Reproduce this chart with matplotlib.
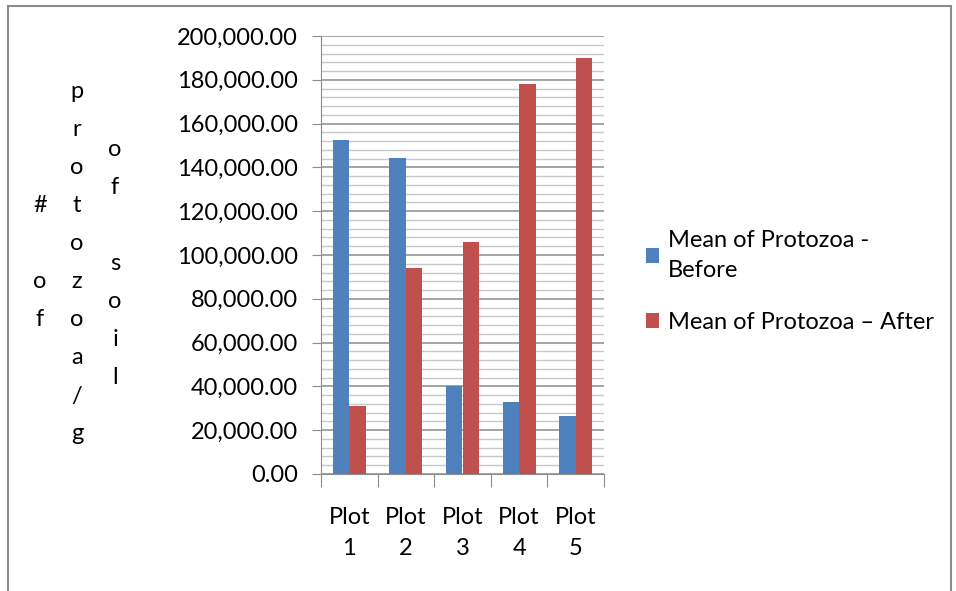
import matplotlib.pyplot as plt
from matplotlib.lines import Line2D
from matplotlib.ticker import FuncFormatter, MultipleLocator
import numpy as np

# data
plots = ['Plot\n1', 'Plot\n2', 'Plot\n3', 'Plot\n4', 'Plot\n5']
before = [152500, 144500, 40000, 33000, 26300]
after = [31000, 94000, 106000, 178000, 190000]
series_names = ['Mean of Protozoa -\nBefore', 'Mean of Protozoa \u2013 After']
ylabel_cols = ['# of', 'protozoa/g', 'of soil']

plt.rcParams['font.family'] = ['Lato', 'DejaVu Sans']
fs = 17

fig = plt.figure(figsize=(9.56, 5.91), dpi=100)
ax = fig.add_axes([321/956, 117/591, 283/956, 438/591])

x = np.arange(len(plots))
w = 0.29
ax.bar(x - w/2, before, w, color='#4F81BD', label=series_names[0], zorder=3)
ax.bar(x + w/2, after, w, color='#C0504D', label=series_names[1], zorder=3)

ax.set_xlim(-0.5, len(plots) - 0.5)
ax.set_ylim(0, 200000)

# grid: major every 20000, minor every 4000
ax.yaxis.set_major_locator(MultipleLocator(20000))
ax.yaxis.set_minor_locator(MultipleLocator(4000))
ax.yaxis.set_major_formatter(FuncFormatter(lambda v, p: f'{v:,.2f}'))
ax.grid(axis='y', which='major', color='#8c8c8c', lw=1.1, zorder=0)
ax.grid(axis='y', which='minor', color='#c8c8c8', lw=1.0, zorder=0)
ax.tick_params(axis='y', which='major', length=6.5, color='#8c8c8c', labelsize=fs, pad=10)
ax.tick_params(axis='y', which='minor', length=0)

# category boundary ticks, labels in the middle
ax.set_xticks(np.arange(len(plots) + 1) - 0.5)
ax.set_xticklabels([])
ax.set_xticks(x, minor=True)
ax.set_xticklabels(plots, minor=True, fontsize=fs, linespacing=1.55)
ax.tick_params(axis='x', which='major', length=9, color='#8c8c8c')
ax.tick_params(axis='x', which='minor', length=0, pad=24)

for s in ['top', 'right']:
    ax.spines[s].set_visible(False)
for s in ['left', 'bottom']:
    ax.spines[s].set_color('#8c8c8c')

# stacked letter y label, three columns
col_x = [40/956, 77/956, 115/956]
for cx, txt in zip(col_x, ylabel_cols):
    fig.text(cx, 1 - 263/591, '\n'.join(txt), ha='center', va='center',
             fontsize=fs, linespacing=2.0)

leg = ax.legend(loc='center left', bbox_to_anchor=(1.075, 0.44), frameon=False,
                fontsize=fs, handlelength=0.55, handleheight=0.55, handletextpad=0.35,
                labelspacing=1.3)
for t in leg.get_texts():
    t.set_linespacing(1.55)

# outer chart border
bc = '#8c8c8c'
fig.add_artist(Line2D([8/956, 8/956], [0, 1 - 6/591], color=bc, lw=1.5, transform=fig.transFigure))
fig.add_artist(Line2D([8/956, 951/956], [1 - 6/591, 1 - 6/591], color=bc, lw=1.5, transform=fig.transFigure))
fig.add_artist(Line2D([951/956, 951/956], [0, 1 - 6/591], color=bc, lw=1.5, transform=fig.transFigure))

fig.savefig('out.png', dpi=100)
